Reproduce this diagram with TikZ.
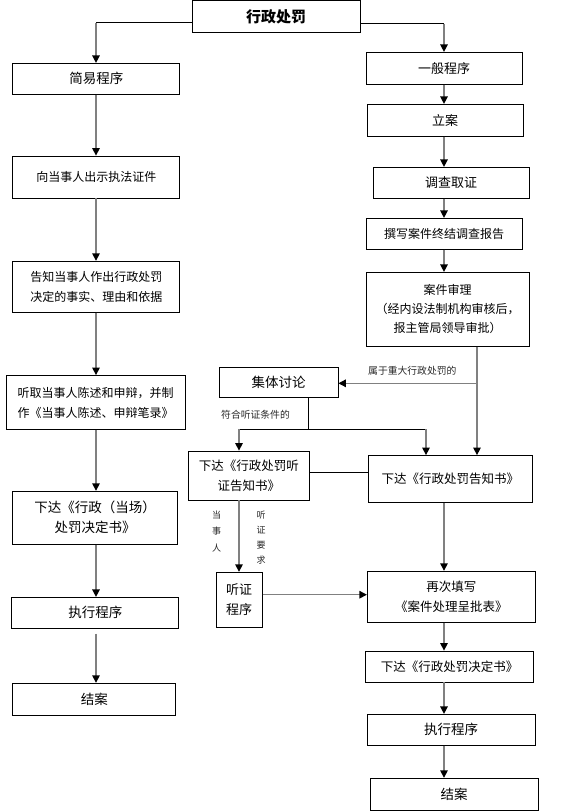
\documentclass[tikz,border=0pt]{standalone}
\usepackage{fontspec}
\setmainfont{Noto Sans CJK SC}
\usetikzlibrary{arrows.meta}

\begin{document}
\begin{tikzpicture}[x=1pt,y=-1pt,
  box/.style={draw,line width=0.8pt,align=center,inner sep=0pt,font=\fontsize{12.5}{20}\selectfont},
  arr/.style={draw=black!50,line width=1.4pt,-{Triangle[length=7.5pt,width=7.5pt,color=black]}},
  link/.style={draw,line width=0.8pt},
  note/.style={font=\fontsize{9.8}{11}\selectfont,inner sep=0pt,text=black!85}]
  \useasboundingbox (0,0) rectangle (564,812);

  % columns of the arrows
  \coordinate (lc) at (96,0);
  \coordinate (rc) at (444,0);
  \coordinate (rd) at (477,0);

  % head
  \node[box,minimum width=168pt,minimum height=32pt,font=\fontsize{15}{18}\selectfont\bfseries] (head) at (276,16.5) {行政处罚};

  % simple procedure
  \node[box,minimum width=167pt,minimum height=31pt,font=\fontsize{13.5}{20}\selectfont] (jianyi) at (96.3,78.8) {简易程序};
  \node[box,minimum width=167pt,minimum height=42pt,font=\fontsize{12}{20}\selectfont] (chushi) at (96.3,177) {向当事人出示执法证件};
  \node[box,minimum width=167pt,minimum height=51pt,font=\fontsize{12}{20}\selectfont] (gaozhi) at (96.3,286.7) {告知当事人作出行政处罚\\决定的事实、理由和依据};
  \node[box,minimum width=179pt,minimum height=54pt,font=\fontsize{12}{20}\selectfont] (tingqu) at (95.5,402.5) {听取当事人陈述和申辩，并制\\作《当事人陈述、申辩笔录》};
  \node[box,minimum width=165pt,minimum height=53pt,font=\fontsize{13.5}{20}\selectfont] (dangchang) at (95.2,517.7) {下达《行政（当场）\\处罚决定书》};
  \node[box,minimum width=167pt,minimum height=31pt,font=\fontsize{13.5}{20}\selectfont] (zhixingl) at (95.3,612.8) {执行程序};
  \node[box,minimum width=163pt,minimum height=32pt,font=\fontsize{13.5}{20}\selectfont] (jieanl) at (94.3,699.2) {结案};

  % general procedure
  \node[box,minimum width=156pt,minimum height=32pt,font=\fontsize{13}{20}\selectfont] (yiban) at (444,68.3) {一般程序};
  \node[box,minimum width=156pt,minimum height=32pt,font=\fontsize{13}{20}\selectfont] (lian) at (445,120.3) {立案};
  \node[box,minimum width=156pt,minimum height=31pt,font=\fontsize{13}{20}\selectfont] (diaocha) at (451,182.8) {调查取证};
  \node[box,minimum width=156pt,minimum height=31pt,font=\fontsize{12}{20}\selectfont] (zhuanxie) at (444,233.8) {撰写案件终结调查报告};
  \node[box,minimum width=163pt,minimum height=74pt,font=\fontsize{12}{19}\selectfont] (shenli) at (447.5,309.3) {案件审理\\（经内设法制机构审核后，\\报主管局领导审批）};
  \node[box,minimum width=119pt,minimum height=30pt,font=\fontsize{13.5}{20}\selectfont] (jiti) at (278.5,382) {集体讨论};
  \node[box,minimum width=121pt,minimum height=49pt] (tzshu) at (248.8,475.5) {下达《行政处罚听\\证告知书》};
  \node[box,minimum width=164pt,minimum height=47pt] (gzshu) at (450.3,479) {下达《行政处罚告知书》};
  \node[box,minimum width=46pt,minimum height=55pt,font=\fontsize{13}{20}\selectfont] (tingzheng) at (239.2,599.7) {听证\\程序};
  \node[box,minimum width=168pt,minimum height=51pt] (zaici) at (451.3,596.7) {再次填写\\《案件处理呈批表》};
  \node[box,minimum width=168pt,minimum height=31pt] (juedingr) at (449.5,666.5) {下达《行政处罚决定书》};
  \node[box,minimum width=168pt,minimum height=31pt,font=\fontsize{13.5}{20}\selectfont] (zhixingr) at (451,729.8) {执行程序};
  \node[box,minimum width=168pt,minimum height=32pt,font=\fontsize{13.5}{20}\selectfont] (jieanr) at (454,794.2) {结案};

  % branches from the head
  \draw[link] ([yshift=-6pt]head.west) -- ([yshift=-6pt]head.west -| lc);
  \draw[arr] ([yshift=-6pt]head.west -| lc) -- (jianyi.north -| lc);
  \draw[link] ([yshift=-7pt]head.east) -- ([yshift=-7pt]head.east -| rc);
  \draw[arr] ([yshift=-7pt]head.east -| rc) -- (yiban.north -| rc);

  % left column
  \draw[arr] (jianyi.south -| lc) -- (chushi.north -| lc);
  \draw[arr] (chushi.south -| lc) -- (gaozhi.north -| lc);
  \draw[arr] (gaozhi.south -| lc) -- (tingqu.north -| lc);
  \draw[arr] (tingqu.south -| lc) -- (dangchang.north -| lc);
  \draw[arr] (dangchang.south -| lc) -- (zhixingl.north -| lc);
  \draw[arr] ([yshift=-5pt]zhixingl.south -| lc) -- (jieanl.north -| lc);

  % right column
  \draw[arr] (yiban.south -| rc) -- (lian.north -| rc);
  \draw[arr] (lian.south -| rc) -- (diaocha.north -| rc);
  \draw[arr] (diaocha.south -| rc) -- (zhuanxie.north -| rc);
  \draw[arr] (zhuanxie.south -| rc) -- (shenli.north -| rc);
  \draw[arr] (shenli.south -| rd) -- (gzshu.north -| rd);
  \draw[arr] ([yshift=-1.3pt]jiti.east -| rd) -- ([yshift=-1.3pt]jiti.east);
  \node[note,anchor=south west] (zhongda) at (368,376) {属于重大行政处罚的};

  % collective discussion
  \coordinate (split) at (308,429);
  \coordinate (ta) at (239,429);
  \coordinate (tb) at (426,429);
  \draw[link] (jiti.south -| split) -- (split) -- (ta);
  \draw[link] (split) -- (tb);
  \draw[arr] (ta) -- (tzshu.north -| ta);
  \draw[arr] (tb) -- (gzshu.north -| tb);
  \node[note,anchor=west] (fuhe) at (221,414.5) {符合听证条件的};
  \draw[link] ([yshift=3pt]tzshu.east) -- ([yshift=3pt]tzshu.east -| gzshu.west);

  % hearing
  \draw[arr] (tzshu.south -| ta) -- (tingzheng.north -| ta);
  \node[note,align=center,font=\fontsize{9}{16.5}\selectfont] (dsr) at (216.7,531.5) {当\\事\\人};
  \node[note,align=center,font=\fontsize{9}{15}\selectfont] (tzyq) at (261,537.5) {听\\证\\要\\求};
  \draw[arr] ([yshift=5pt]tingzheng.east) -- ([yshift=5pt]tingzheng.east -| zaici.west);
  \draw[arr] (gzshu.south -| rc) -- (zaici.north -| rc);
  \draw[arr] (zaici.south -| rc) -- (juedingr.north -| rc);
  \draw[arr] (juedingr.south -| rc) -- (zhixingr.north -| rc);
  \draw[arr] (zhixingr.south -| rc) -- (jieanr.north -| rc);
\end{tikzpicture}
\end{document}
